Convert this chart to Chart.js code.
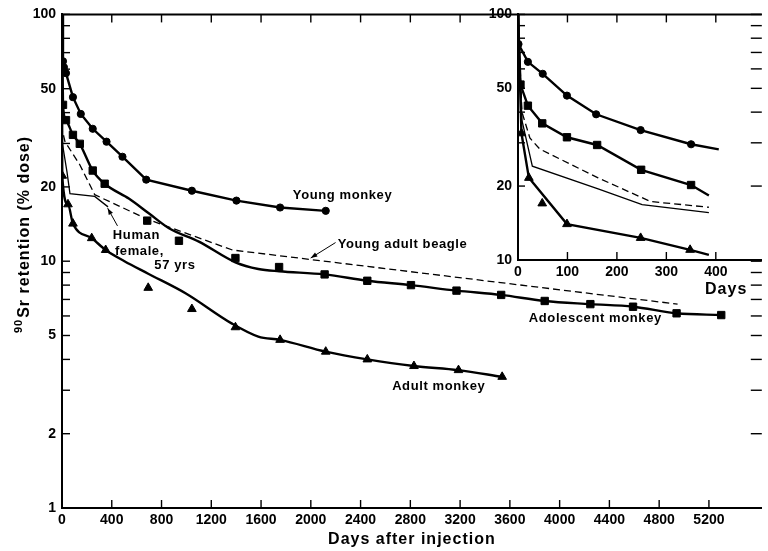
<!DOCTYPE html>
<html>
<head>
<meta charset="utf-8">
<script src="https://cdn.jsdelivr.net/npm/chart.js@4.4.1/dist/chart.umd.min.js"></script>
<style>
html, body { margin: 0; padding: 0; background: #fff; }
#wrap { position: relative; width: 768px; height: 551px; }
#main { position: absolute; left: 0; top: 0; }
#inset { position: absolute; left: 480px; top: 0; }
</style>
</head>
<body>
<div id="wrap">
  <canvas id="main" width="768" height="551"></canvas>
  <canvas id="inset" width="288" height="305"></canvas>
</div>
<script>
// ---- main chart data (days after injection, % dose) ----
const youngDays = [8, 16, 32, 88, 151, 247, 358, 486, 677, 1044, 1402, 1753, 2120];
const youngPct  = [64.6, 61, 57.8, 46.2, 39.5, 34.4, 30.5, 26.5, 21.4, 19.3, 17.6, 16.5, 16.0];

const adolDays = [8, 32, 88, 143, 247, 343, 685, 940, 1394, 1745, 2111, 2454, 2805, 3171, 3530, 3880, 4247, 4590, 4940, 5299];
const adolPct  = [43, 37.3, 32.5, 29.9, 23.3, 20.6, 14.6, 12.1, 10.3, 9.47, 8.84, 8.33, 8.0, 7.6, 7.3, 6.9, 6.7, 6.54, 6.15, 6.05];
const adolCurveDays = [0, 8, 32, 88, 143, 247, 343, 540, 700, 860, 1100, 1394, 1578, 1745, 2111, 2454, 2805, 3171, 3530, 3880, 4247, 4590, 4940, 5299];
const adolCurvePct  = [100, 43, 37.3, 32.5, 29.9, 23.3, 20.6, 17.9, 15.6, 13.6, 12.0, 9.9, 9.3, 9.1, 8.84, 8.33, 8.0, 7.6, 7.3, 6.9, 6.7, 6.54, 6.15, 6.05];

const adultDays = [2, 48, 88, 239, 351, 693, 1044, 1394, 1753, 2120, 2454, 2829, 3187, 3538];
const adultPct  = [22.2, 17, 14.2, 12.4, 11.1, 7.8, 6.4, 5.4, 4.8, 4.3, 4.0, 3.76, 3.62, 3.4];
const adultCurveDays = [0, 2, 48, 88, 239, 351, 502, 693, 996, 1363, 1578, 1753, 2120, 2454, 2829, 3187, 3538];
const adultCurvePct  = [100, 22.2, 17, 14.2, 12.4, 11.1, 10.0, 8.9, 7.4, 5.6, 4.95, 4.8, 4.3, 4.0, 3.76, 3.62, 3.4];

const beagleDays = [0, 2, 24, 143, 263, 685, 1370, 4948];
const beaglePct  = [100, 34, 30.5, 24.6, 18.6, 14.8, 11.1, 6.7];

const humanDays = [0, 3, 40, 64, 263, 370];
const humanPct  = [100, 30, 23, 18.8, 18.3, 16.6];

const mainXTicks = [0, 400, 800, 1200, 1600, 2000, 2400, 2800, 3200, 3600, 4000, 4400, 4800, 5200];
const mainYTicks = [1, 2, 3, 4, 5, 6, 7, 8, 9, 10, 20, 30, 40, 50, 60, 70, 80, 90, 100];
const mainYLabels = [1, 2, 5, 10, 20, 50, 100];

// ---- inset data (first 400 days) ----
const insYoungDays = [1, 20, 50, 99, 158, 248, 350];
const insYoungPct  = [75.7, 64.1, 57.3, 46.7, 39.2, 33.8, 29.6];
const insYoungEnd  = [406, 28.2];

const insAdolDays = [5, 20, 49, 99, 160, 249, 350];
const insAdolPct  = [51.8, 42.5, 36, 31.6, 29.4, 23.3, 20.2];
const insAdolEnd  = [386, 18.3];

const insAdultDays = [7, 22, 49, 99, 248, 348];
const insAdultPct  = [32.8, 21.6, 17.0, 14.0, 12.3, 11.0];
const insAdultCurveDays = [0, 7, 22, 99, 248, 348, 386];
const insAdultCurvePct  = [100, 32.8, 21.6, 14.0, 12.3, 11.0, 10.5];

const insBeagleDays = [0, 8, 24, 44, 162, 268, 386];
const insBeaglePct  = [100, 40, 31.4, 28.3, 21.6, 17.3, 16.4];

const insHumanDays = [0, 8, 29, 162, 251, 386];
const insHumanPct  = [100, 37, 24.1, 19.5, 16.8, 15.6];

const insXTicks = [0, 100, 200, 300, 400];
const insYTicks = [10, 20, 30, 40, 50, 60, 70, 80, 90, 100];
const insYLabels = [10, 20, 50, 100];

// ---- helpers ----
const FONT = "'Liberation Sans', Arial, sans-serif";
Chart.defaults.font.family = FONT;
Chart.defaults.color = '#000';

function pts(xs, ys) { return xs.map((x, i) => ({ x: x, y: ys[i] })); }

function lineSet(xs, ys, extra) {
  return Object.assign({
    data: pts(xs, ys), showLine: true, pointRadius: 0, borderColor: '#000',
    borderWidth: 2.4, fill: false, tension: 0
  }, extra || {});
}
function markSet(xs, ys, style, r) {
  return {
    data: pts(xs, ys), showLine: false, pointStyle: style, pointRadius: r,
    pointBackgroundColor: '#000', pointBorderColor: '#000', pointBorderWidth: 1
  };
}
function seg(ctx, x1, y1, x2, y2) {
  ctx.beginPath(); ctx.moveTo(x1, y1); ctx.lineTo(x2, y2); ctx.stroke();
}
function arrow(ctx, x1, y1, x2, y2) {
  seg(ctx, x1, y1, x2, y2);
  const a = Math.atan2(y2 - y1, x2 - x1);
  ctx.beginPath();
  ctx.moveTo(x2, y2);
  ctx.lineTo(x2 - 7 * Math.cos(a - 0.35), y2 - 7 * Math.sin(a - 0.35));
  ctx.lineTo(x2 - 7 * Math.cos(a + 0.35), y2 - 7 * Math.sin(a + 0.35));
  ctx.closePath(); ctx.fill();
}

// ---- main chart decorations ----
const mainDecor = {
  id: 'mainDecor',
  afterDraw(chart) {
    const { ctx, chartArea: a, scales: { x, y } } = chart;
    ctx.save();
    ctx.strokeStyle = '#000';
    ctx.fillStyle = '#000';
    ctx.lineWidth = 2;
    seg(ctx, a.left, a.top, a.right, a.top);
    ctx.lineWidth = 1.4;
    mainXTicks.forEach(v => {
      if (v === 0) return;
      const px = x.getPixelForValue(v);
      seg(ctx, px, a.bottom, px, a.bottom - 8);
      seg(ctx, px, a.top, px, a.top + 8);
    });
    mainYTicks.forEach(v => {
      const py = y.getPixelForValue(v);
      seg(ctx, a.left, py, a.left + 8, py);
      seg(ctx, a.right, py, a.right - 11, py);
    });

    // axis titles
    ctx.letterSpacing = '1px';
    ctx.font = 'bold 16px ' + FONT;
    ctx.textAlign = 'center';
    ctx.textBaseline = 'alphabetic';
    ctx.fillText('Days after injection', (a.left + a.right) / 2, 544);

    ctx.save();
    ctx.translate(29, 235);
    ctx.rotate(-Math.PI / 2);
    ctx.textAlign = 'left';
    ctx.font = 'bold 11px ' + FONT;
    const sup = '90';
    const w1 = ctx.measureText(sup).width;
    ctx.font = 'bold 16px ' + FONT;
    const rest = 'Sr retention (% dose)';
    const w2 = ctx.measureText(rest).width;
    const start = -(w1 + w2) / 2;
    ctx.font = 'bold 11px ' + FONT;
    ctx.fillText(sup, start, -7);
    ctx.font = 'bold 16px ' + FONT;
    ctx.fillText(rest, start + w1 + 1, 0);
    ctx.restore();

    // curve labels
    ctx.letterSpacing = '0.6px';
    ctx.font = 'bold 13px ' + FONT;
    ctx.textAlign = 'center';
    ctx.textBaseline = 'middle';
    const lab = (t, d, p) => ctx.fillText(t, x.getPixelForValue(d), y.getPixelForValue(p));
    lab('Young monkey', 2255, 18.45);
    lab('Young adult beagle', 2737, 11.7);
    lab('Adolescent monkey', 4287, 5.85);
    lab('Adult monkey', 3028, 3.12);
    ctx.textBaseline = 'alphabetic';
    lab('Human', 598, 12.3);
    lab('female,', 622, 10.6);
    lab('57 yrs', 908, 9.3);

    ctx.lineWidth = 1;
    arrow(ctx, x.getPixelForValue(2199), y.getPixelForValue(11.9), x.getPixelForValue(1999), y.getPixelForValue(10.3));
    arrow(ctx, x.getPixelForValue(446), y.getPixelForValue(13.9), x.getPixelForValue(367), y.getPixelForValue(16.4));
    ctx.restore();
  }
};

new Chart(document.getElementById('main'), {
  type: 'scatter',
  data: {
    datasets: [
      lineSet([0].concat(youngDays), [100].concat(youngPct)),
      markSet(youngDays, youngPct, 'circle', 3.6),
      lineSet(adolCurveDays, adolCurvePct, { cubicInterpolationMode: 'monotone' }),
      markSet(adolDays, adolPct, 'rect', 5.2),
      lineSet(adultCurveDays, adultCurvePct, { cubicInterpolationMode: 'monotone' }),
      markSet(adultDays, adultPct, 'triangle', 5),
      lineSet(beagleDays, beaglePct, { borderWidth: 1.3, borderDash: [7, 4] }),
      lineSet(humanDays, humanPct, { borderWidth: 1.3 })
    ]
  },
  options: {
    responsive: false,
    animation: false,
    events: [],
    layout: { padding: { top: 12, right: 0, left: 0, bottom: 0 } },
    plugins: { legend: { display: false }, tooltip: { enabled: false } },
    scales: {
      x: {
        type: 'linear', min: 0, max: 5625,
        afterBuildTicks: s => { s.ticks = mainXTicks.map(v => ({ value: v })); },
        afterFit: s => { s.height = 43; },
        grid: { display: false, drawTicks: false },
        border: { display: true, color: '#000', width: 2 },
        ticks: { padding: 4, autoSkip: false, maxRotation: 0, font: { size: 14, weight: 'bold' }, callback: v => String(v) }
      },
      y: {
        type: 'logarithmic', min: 1, max: 100,
        afterBuildTicks: s => { s.ticks = mainYTicks.map(v => ({ value: v })); },
        afterFit: s => { s.width = 62; },
        grid: { display: false, drawTicks: false },
        border: { display: true, color: '#000', width: 2 },
        ticks: { padding: 6, autoSkip: false, font: { size: 14, weight: 'bold' }, callback: v => (mainYLabels.includes(v) ? String(v) : '') }
      }
    }
  },
  plugins: [mainDecor]
});

// ---- inset chart ----
const insetDecor = {
  id: 'insetDecor',
  beforeDraw(chart) {
    const { ctx, chartArea: a } = chart;
    ctx.save();
    ctx.fillStyle = '#fff';
    ctx.fillRect(6, 0, chart.width - 6, a.bottom + 1);
    ctx.restore();
  },
  afterDraw(chart) {
    const { ctx, chartArea: a, scales: { x, y } } = chart;
    ctx.save();
    ctx.strokeStyle = '#000';
    ctx.fillStyle = '#000';
    ctx.lineWidth = 2;
    seg(ctx, 6, a.top, a.right, a.top);
    ctx.lineWidth = 1.4;
    insXTicks.forEach(v => {
      if (v === 0) return;
      const px = x.getPixelForValue(v);
      seg(ctx, px, a.bottom, px, a.bottom - 8);
      seg(ctx, px, a.top, px, a.top + 8);
    });
    insYTicks.forEach(v => {
      const py = y.getPixelForValue(v);
      seg(ctx, a.left, py, a.left + 7, py);
      seg(ctx, a.right, py, a.right - 11, py);
    });
    ctx.letterSpacing = '1px';
    ctx.font = 'bold 16px ' + FONT;
    ctx.textAlign = 'center';
    ctx.textBaseline = 'middle';
    ctx.fillText('Days', x.getPixelForValue(421), a.bottom + 30);
    ctx.restore();
  }
};

new Chart(document.getElementById('inset'), {
  type: 'scatter',
  data: {
    datasets: [
      lineSet([0].concat(insYoungDays, [insYoungEnd[0]]), [100].concat(insYoungPct, [insYoungEnd[1]])),
      markSet(insYoungDays, insYoungPct, 'circle', 3.6),
      lineSet([0].concat(insAdolDays, [insAdolEnd[0]]), [100].concat(insAdolPct, [insAdolEnd[1]])),
      markSet(insAdolDays, insAdolPct, 'rect', 5.2),
      lineSet(insAdultCurveDays, insAdultCurvePct),
      markSet(insAdultDays, insAdultPct, 'triangle', 5),
      lineSet(insBeagleDays, insBeaglePct, { borderWidth: 1.3, borderDash: [7, 4] }),
      lineSet(insHumanDays, insHumanPct, { borderWidth: 1.3 })
    ]
  },
  options: {
    responsive: false,
    animation: false,
    events: [],
    layout: { padding: { top: 12, right: 0, left: 0, bottom: 0 } },
    plugins: { legend: { display: false }, tooltip: { enabled: false } },
    scales: {
      x: {
        type: 'linear', min: 0, max: 493,
        afterBuildTicks: s => { s.ticks = insXTicks.map(v => ({ value: v })); },
        afterFit: s => { s.height = 45; },
        grid: { display: false, drawTicks: false },
        border: { display: true, color: '#000', width: 2 },
        ticks: { padding: 4, autoSkip: false, maxRotation: 0, font: { size: 14, weight: 'bold' }, callback: v => String(v) }
      },
      y: {
        type: 'logarithmic', min: 10, max: 100,
        afterBuildTicks: s => { s.ticks = insYTicks.map(v => ({ value: v })); },
        afterFit: s => { s.width = 38; },
        grid: { display: false, drawTicks: false },
        border: { display: true, color: '#000', width: 2 },
        ticks: { padding: 6, autoSkip: false, font: { size: 14, weight: 'bold' }, callback: v => (insYLabels.includes(v) ? String(v) : '') }
      }
    }
  },
  plugins: [insetDecor]
});
</script>
</body>
</html>
